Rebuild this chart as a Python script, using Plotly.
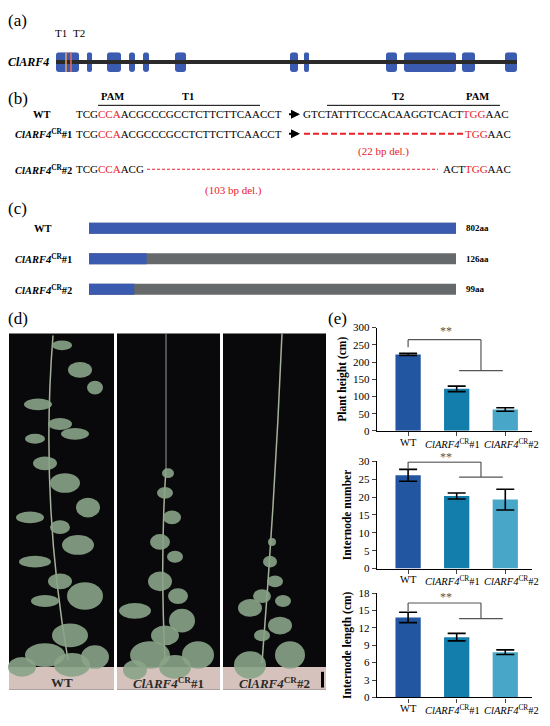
import plotly.graph_objects as go

W, H = 550, 726
SERIF = "Liberation Serif"
RED = "#e8202a"
BLUE = "#3b5bb0"


def px(x):
    return x / W


def py(y):
    return 1 - y / H


# ---- (a) gene structure (positions along the drawn gene) ----
exon_start = [56, 87, 107, 129, 143, 175, 290, 304, 386, 404, 462, 505]
exon_end = [79, 92, 121, 135, 149, 186, 298, 309, 397, 456, 475, 517]
target_names = ["T1", "T2"]
target_pos = [66, 71]

# ---- (b) sequences ----
seq_left = "TCG<span style='color:%s'>CCA</span>ACGCCCGCCTCTTCTTCAACCT" % RED
seq_right = "GTCTATTTCCCACAAGGTCACT<span style='color:%s'>TGG</span>AAC" % RED
seq_cr1_end = "<span style='color:%s'>TGG</span>AAC" % RED
seq_cr2_start = "TCG<span style='color:%s'>CCA</span>ACG" % RED
seq_cr2_end = "ACT<span style='color:%s'>TGG</span>AAC" % RED
deletions = ["(22 bp del.)", "(103 bp del.)"]

# ---- (c) protein length ----
lines = ["<b>WT</b>", "<b><i>ClARF4</i><sup>CR</sup>#1</b>", "<b><i>ClARF4</i><sup>CR</sup>#2</b>"]
protein_len = [802, 126, 99]
full_len = 802

# ---- (e) phenotypes ----
genotypes = ["WT", "<i>ClARF4</i><sup>CR</sup>#1", "<i>ClARF4</i><sup>CR</sup>#2"]
plant_height = [222, 122, 62]
plant_height_err = [3, 8, 5]
internode_num = [26.1, 20.3, 19.3]
internode_num_err = [1.65, 0.85, 2.9]
internode_len = [13.8, 10.4, 7.8]
internode_len_err = [0.9, 0.65, 0.4]
bar_colors = ["#2256a0", "#137dab", "#48a7c9"]

fig = go.Figure()
shapes = []
annots = []


def ann(x, y, text, size=11, anchor="center", color="black"):
    annots.append(dict(x=px(x), y=py(y), xref="paper", yref="paper", text=text,
                       showarrow=False, xanchor=anchor, yanchor="middle", borderpad=0,
                       font=dict(family=SERIF, size=size, color=color)))


def line(x0, y0, x1, y1, color="black", width=1, dash="solid"):
    shapes.append(dict(type="line", xref="paper", yref="paper", x0=px(x0), y0=py(y0),
                       x1=px(x1), y1=py(y1), line=dict(color=color, width=width, dash=dash)))


# gene structure
fig.add_trace(go.Scatter(x=[exon_start[0], exon_end[-1]], y=[0, 0], mode="lines",
                         line=dict(color="#2a2a2a", width=4), xaxis="x", yaxis="y",
                         hoverinfo="skip"))
fig.add_trace(go.Bar(y=[0] * len(exon_start), base=exon_start,
                     x=[e - s for s, e in zip(exon_start, exon_end)], orientation="h",
                     width=1, marker=dict(color=BLUE, cornerradius=3, line_width=0),
                     xaxis="x", yaxis="y"))
for xp, c in zip(target_pos, ["#f0a35a", "#f06a5a"]):
    shapes.append(dict(type="line", xref="x", yref="y", x0=xp, x1=xp, y0=-0.5, y1=0.5,
                       line=dict(color=c, width=1.5)))
fig.add_trace(go.Scatter(x=target_pos, y=[0.85, 0.85], mode="markers",
                         marker=dict(symbol="triangle-down", size=6, color="black"),
                         xaxis="x", yaxis="y", cliponaxis=False))
for name, xp in zip(target_names, [61, 79]):
    ann(xp, 27, name, 11)
ann(7, 57, "<b><i>ClARF4</i></b>", 12, "left")

# protein bars
fig.add_trace(go.Bar(y=[0, 1, 2], x=[full_len] * 3, orientation="h", width=0.36,
                     marker=dict(color="#66696b", line_width=0), xaxis="x2", yaxis="y2"))
fig.add_trace(go.Bar(y=[0, 1, 2], x=protein_len, orientation="h", width=0.36,
                     marker=dict(color=BLUE, line_width=0), xaxis="x2", yaxis="y2"))
for i, (lab, n) in enumerate(zip(lines, protein_len)):
    yy = 226 + 31 * i
    if i == 0:
        ann(43, yy, lab, 10.5)
    else:
        ann(73, yy, lab, 10.5, "right")
    ann(465, yy, "<b>%daa</b>" % n, 9, "left")

# sequences
for t, xp in zip(["<b>PAM</b>", "<b>T1</b>", "<b>T2</b>", "<b>PAM</b>"], [112, 188, 398, 477]):
    ann(xp, 92, t, 10.5)
line(98, 101, 260, 101)
line(327, 101, 500, 101)

ann(42, 110, "<b>WT</b>", 10.5)
ann(75, 110, seq_left, 11, "left")
ann(302, 110, seq_right, 11, "left")
ann(73, 130, lines[1], 10.5, "right")
ann(75, 130, seq_left, 11, "left")
line(304, 130, 463, 130, RED, 2, "6px,3px")
ann(512, 130, seq_cr1_end, 11, "right")
ann(383, 148, deletions[0], 11, "center", RED)
ann(73, 166, lines[2], 10.5, "right")
ann(75, 166, seq_cr2_start, 11, "left")
line(147, 166, 438, 166, RED, 1, "3px,2px")
ann(512, 166, seq_cr2_end, 11, "right")
ann(233, 188, deletions[1], 11, "center", RED)
for yy in [110, 130]:
    annots.append(dict(x=px(300), y=py(yy), xref="paper", yref="paper", ax=-14, ay=0,
                       showarrow=True, arrowhead=2, arrowsize=0.9, arrowwidth=2,
                       arrowcolor="black", text=" "))

ann(7, 15, "(a)", 17, "left")
ann(7, 94, "(b)", 17, "left")
ann(7, 206, "(c)", 17, "left")
ann(7, 318, "(d)", 17, "left")
ann(327, 318, "(e)", 17, "left")

# (d) photo placeholders
photos = [(9, 114), (117, 220), (223, 326)]
stems = [(53, 335, 40, 500, 68, 665), (166, 470, 160, 560, 165, 665), (282, 333, 275, 500, 262, 668)]
leaves = [
    [(62, 345, 10, 5), (80, 370, 12, 8), (95, 388, 8, 7), (38, 405, 14, 6), (60, 425, 12, 6),
     (35, 440, 10, 5), (75, 435, 14, 6), (45, 465, 12, 7), (65, 485, 15, 10), (88, 510, 12, 10),
     (30, 520, 14, 6), (60, 530, 10, 7), (78, 548, 16, 10), (35, 565, 16, 6), (60, 585, 12, 8),
     (85, 600, 18, 14), (45, 605, 14, 6), (70, 640, 18, 12), (45, 660, 20, 12), (95, 662, 14, 12),
     (22, 672, 14, 10), (72, 670, 18, 12)],
    [(168, 475, 6, 5), (165, 495, 8, 6), (172, 520, 9, 7), (160, 545, 10, 8), (175, 560, 8, 6),
     (160, 585, 12, 10), (178, 600, 10, 8), (135, 615, 16, 8), (182, 625, 13, 12), (165, 640, 14, 10),
     (150, 660, 20, 14), (198, 660, 16, 14), (135, 675, 12, 10), (175, 672, 16, 12)],
    [(272, 545, 4, 4), (270, 565, 7, 6), (275, 585, 8, 6), (262, 600, 9, 7), (283, 605, 8, 6),
     (250, 612, 12, 9), (280, 630, 12, 9), (262, 640, 8, 6), (250, 670, 16, 14), (290, 660, 15, 14)],
]
labels_d = ["<b>WT</b>", "<b><i>ClARF4</i><sup>CR</sup>#1</b>", "<b><i>ClARF4</i><sup>CR</sup>#2</b>"]
for (x0, x1), st, lv, lab in zip(photos, stems, leaves, labels_d):
    shapes.append(dict(type="rect", xref="paper", yref="paper", x0=px(x0), x1=px(x1),
                       y0=py(695), y1=py(333), fillcolor="#09090b", line_width=0, layer="below"))
    shapes.append(dict(type="rect", xref="paper", yref="paper", x0=px(x0), x1=px(x1),
                       y0=py(695), y1=py(672), fillcolor="#d6c2bc", line_width=0, layer="below"))
    path = "M %f,%f Q %f,%f %f,%f" % (px(st[0]), py(st[1]), px(st[2]), py(st[3]), px(st[4]), py(st[5]))
    shapes.append(dict(type="path", xref="paper", yref="paper", path=path,
                       line=dict(color="#a5b09a", width=1.5)))
    for cx, cy, rx, ry in lv:
        shapes.append(dict(type="circle", xref="paper", yref="paper", x0=px(cx - rx), x1=px(cx + rx),
                           y0=py(cy + ry), y1=py(cy - ry), fillcolor="#8aa487", opacity=0.9,
                           line_width=0))
    ann((x0 + x1) / 2, 688, lab, 13, "center", "#2a2a2a")
shapes.append(dict(type="line", xref="paper", yref="paper", x0=px(166), x1=px(166), y0=py(333),
                   y1=py(470), line=dict(color="#9a9a9a", width=1)))
shapes.append(dict(type="rect", xref="paper", yref="paper", x0=px(321), x1=px(324), y0=py(693),
                   y1=py(677), fillcolor="black", line_width=0))

# (e) bar charts
panels = [
    ("x3", "y3", plant_height, plant_height_err, "Plant height (cm)", 300, 50, (327, 432),
     (265, 243, 175, 290)),
    ("x4", "y4", internode_num, internode_num_err, "Internode number", 30, 5, (463, 572),
     (29.8, 27.8, 25.6, 31.2)),
    ("x5", "y5", internode_len, internode_len_err, "Internode length (cm)", 18, 3, (597, 703),
     (16.3, 14.9, 13.6, 17.3)),
]
label_shift = [0, -4, 6]
layout_axes = {}
gray = "#555555"
for xa, ya, vals, errs, title, ymax, dt, (top, bot), (b_top, b_wt, b_low, b_star) in panels:
    fig.add_trace(go.Bar(x=[0, 1, 2], y=vals, width=0.52, xaxis=xa, yaxis=ya,
                         marker=dict(color=bar_colors, line_width=0),
                         error_y=dict(type="data", array=errs, color="black", thickness=1.6,
                                      width=9)))
    for x0, y0, x1, y1 in [(0, b_wt, 0, b_top), (0, b_top, 1.5, b_top), (1.5, b_top, 1.5, b_low),
                           (1.05, b_low, 1.95, b_low)]:
        shapes.append(dict(type="line", xref=xa, yref=ya, x0=x0, y0=y0, x1=x1, y1=y1,
                           line=dict(color=gray, width=1.2)))
    star_px = bot - b_star / ymax * (bot - top)
    annots.append(dict(x=0.78, y=py(star_px), xref=xa, yref="paper", text="**", showarrow=False,
                       yanchor="middle", borderpad=0,
                       font=dict(family=SERIF, size=12, color=gray)))
    # category labels under the axis (spread a little, as in the figure)
    for i, (g, sh) in enumerate(zip(genotypes, label_shift)):
        annots.append(dict(x=i, y=py(bot + 5), xref=xa, yref="paper", text=g, showarrow=False,
                           xshift=sh, yanchor="top", borderpad=0,
                           font=dict(family=SERIF, size=10.5, color="black")))
    n = xa[1:]
    layout_axes["xaxis" + n] = dict(domain=[px(377), px(532)], range=[-0.64, 2.55], anchor=ya,
                                    tickvals=[0, 1, 2], showticklabels=False, showline=True,
                                    linecolor="black", linewidth=1.4, ticks="outside", ticklen=4,
                                    tickwidth=1.2, showgrid=False, zeroline=False)
    layout_axes["yaxis" + n] = dict(domain=[py(bot), py(top)], range=[0, ymax], dtick=dt,
                                    anchor=xa, showline=True, linecolor="black", linewidth=1.4,
                                    ticks="outside", ticklen=4, tickwidth=1.2, showgrid=False,
                                    zeroline=False,
                                    tickfont=dict(family=SERIF, size=11, color="black"),
                                    title=dict(text="<b>%s</b>" % title, standoff=4,
                                               font=dict(family=SERIF, size=11.5, color="black")))

hidden = dict(visible=False, showgrid=False, zeroline=False, fixedrange=True)
fig.update_layout(
    width=W, height=H, margin=dict(l=0, r=0, t=0, b=0),
    paper_bgcolor="white", plot_bgcolor="white", showlegend=False, barmode="overlay",
    font=dict(family=SERIF, color="black"),
    xaxis=dict(hidden, domain=[0, 1], range=[0, W]),
    yaxis=dict(hidden, domain=[py(67), py(47)], range=[-0.5, 0.5]),
    xaxis2=dict(hidden, domain=[px(89), px(456)], range=[0, full_len]),
    yaxis2=dict(hidden, domain=[py(303.5), py(210.5)], range=[2.5, -0.5]),
    shapes=shapes, annotations=annots, **layout_axes,
)

# the page's default body margin would push the figure off the window
fig.write_html("out.html", config={"displayModeBar": False},
               post_script="document.body.style.margin='0';")
